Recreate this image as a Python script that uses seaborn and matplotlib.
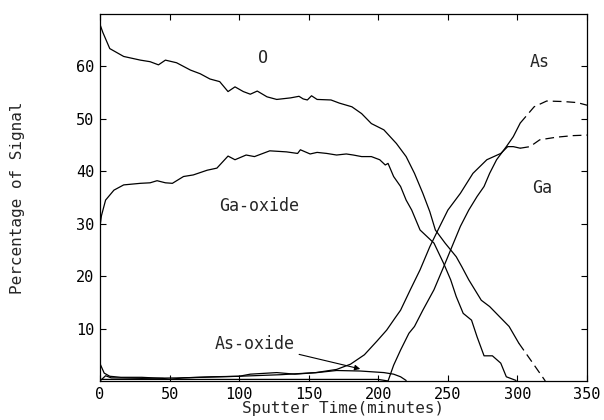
# Signalanteile ueber der Sputterzeit (O, Ga-oxide, As-oxide, Ga, As)
import matplotlib
matplotlib.use("Agg")
import matplotlib.pyplot as plt
import numpy as np
import pandas as pd
import seaborn as sns

# --- Werte ---
o_time = [0, 2, 7, 17, 29, 36, 42, 47, 55, 65, 72, 79, 86, 92, 97, 103, 108, 113,
          120, 127, 137, 143, 146, 149, 152, 156, 166, 172, 181, 188, 195, 204, 213,
          220, 226, 232, 237, 241, 248, 256, 260, 265, 274, 280, 287, 294, 301, 310, 320]
o_value = [68.0, 66.5, 63.4, 61.9, 61.2, 60.9, 60.3, 61.2, 60.7, 59.3, 58.6, 57.6, 57.1,
           55.2, 56.1, 55.2, 54.7, 55.3, 54.2, 53.7, 54.0, 54.3, 53.8, 53.6, 54.4, 53.7,
           53.6, 53.0, 52.3, 51.0, 49.1, 47.9, 45.3, 42.8, 39.6, 35.8, 32.3, 28.8, 26.3,
           23.7, 21.8, 19.3, 15.4, 14.2, 12.3, 10.4, 7.2, 3.8, 0.0]

gaox_time = [0, 1, 4, 10, 17, 29, 36, 41, 47, 52, 60, 67, 77, 84, 92, 97, 105, 111, 122,
             134, 142, 144, 151, 156, 163, 170, 177, 182, 188, 195, 201, 205, 207, 211,
             216, 220, 224, 230, 240, 247, 252, 256, 261, 267, 271, 276, 282, 288, 292, 299]
gaox_value = [29.5, 31.5, 34.5, 36.4, 37.4, 37.7, 37.8, 38.2, 37.8, 37.7, 39.0, 39.3,
              40.2, 40.6, 42.9, 42.2, 43.1, 42.8, 43.9, 43.7, 43.4, 44.1, 43.3, 43.6,
              43.4, 43.1, 43.3, 43.1, 42.8, 42.8, 42.2, 41.2, 41.5, 39.0, 37.1, 34.5,
              32.6, 28.8, 26.3, 22.4, 19.3, 16.1, 12.9, 11.6, 8.4, 4.8, 4.8, 3.4, 0.8, 0.1]

asox_time = [0, 3, 7, 15, 30, 45, 50, 60, 80, 100, 108, 127, 140, 156, 170, 187, 204,
             211, 216, 220]
asox_value = [3.3, 1.5, 0.9, 0.7, 0.7, 0.5, 0.3, 0.6, 0.8, 0.9, 1.3, 1.6, 1.3, 1.6, 2.0,
              1.9, 1.6, 1.3, 0.8, 0.1]

ga_time = [0, 4, 8, 30, 60, 100, 130, 155, 170, 180, 190, 199, 206, 212, 216, 223, 230,
           237, 244, 250, 259, 268, 278, 288, 293, 297, 302, 309, 316, 328, 340, 350]
ga_value = [0.0, 1.0, 0.6, 0.5, 0.6, 0.9, 1.2, 1.6, 2.2, 3.2, 5.0, 7.6, 9.7, 12.0, 13.5,
            17.4, 21.2, 25.6, 29.4, 32.6, 35.8, 39.6, 42.2, 43.4, 44.7, 44.7, 44.4, 44.7,
            46.0, 46.5, 46.8, 46.9]

as_time = [0, 100, 200, 207, 211, 216, 222, 226, 232, 240, 247, 254, 259, 265, 271, 276,
           280, 285, 292, 297, 302, 312, 321, 333, 343, 350]
as_value = [0.3, 0.3, 0.3, 0.0, 3.0, 5.9, 9.1, 10.4, 13.5, 17.4, 21.8, 26.3, 29.5, 32.6,
            35.2, 37.1, 39.6, 42.2, 44.7, 46.6, 49.2, 52.3, 53.4, 53.3, 53.1, 52.6]

# ab hier gestrichelt gezeichnet
dash_from = {"O": 301, "Ga-oxide": 999, "As-oxide": 999, "Ga": 302, "As": 302}

x_ticks = [0, 50, 100, 150, 200, 250, 300, 350]
y_ticks = [10, 20, 30, 40, 50, 60]


def build_frame():
    parts = []
    for name, t, v in [("O", o_time, o_value), ("Ga-oxide", gaox_time, gaox_value),
                       ("As-oxide", asox_time, asox_value), ("Ga", ga_time, ga_value),
                       ("As", as_time, as_value)]:
        parts.append(pd.DataFrame({"time": t, "value": v, "signal": name}))
    return pd.concat(parts, ignore_index=True)


def save_image(df):
    sns.set_theme(style="ticks")
    plt.rcParams["font.family"] = ["DejaVu Sans Mono"]

    fig = plt.figure(figsize=(6.04, 4.2), dpi=100)
    ax = fig.add_axes([0.1656, 0.0929, 0.8063, 0.8738])

    for name, grp in df.groupby("signal", sort=False):
        cut = dash_from[name]
        solid = grp[grp["time"] <= cut]
        sns.lineplot(data=solid, x="time", y="value", ax=ax, color="black",
                     linewidth=0.9, sort=False, estimator=None)
        dashed = grp[grp["time"] >= cut]
        if len(dashed) > 1:
            sns.lineplot(data=dashed, x="time", y="value", ax=ax, color="black",
                         linewidth=0.9, sort=False, estimator=None,
                         linestyle=(0, (7, 4)))

    ax.set_xlim(0, 350)
    ax.set_ylim(0, 70)
    ax.set_xticks(x_ticks)
    ax.set_yticks(y_ticks)
    ax.tick_params(direction="in", top=True, right=True, length=4, width=0.8,
                   labelsize=11, pad=4, colors="black")
    for s in ax.spines.values():
        s.set_linewidth(0.9)
        s.set_color("black")

    ax.set_xlabel("Sputter Time(minutes)", fontsize=11.5)
    ax.xaxis.set_label_coords(0.5, -0.054)
    ax.set_ylabel("Percentage of Signal", fontsize=11.5)
    ax.yaxis.set_label_coords(-0.155, 0.5)

    ax.text(117, 61.6, "O", fontsize=12, ha="center", va="center")
    ax.text(316, 60.8, "As", fontsize=12, ha="center", va="center")
    ax.text(318, 36.8, "Ga", fontsize=12, ha="center", va="center")
    ax.text(114, 33.3, "Ga-oxide", fontsize=12, ha="center", va="center")
    ax.annotate("As-oxide", xy=(187, 2.3), xytext=(111, 7.1), fontsize=12,
                ha="center", va="center",
                arrowprops=dict(arrowstyle="-|>", color="black", lw=0.8,
                                mutation_scale=8, shrinkA=1, shrinkB=0))

    fig.savefig("out.png", dpi=100)


if __name__ == "__main__":
    save_image(build_frame())
